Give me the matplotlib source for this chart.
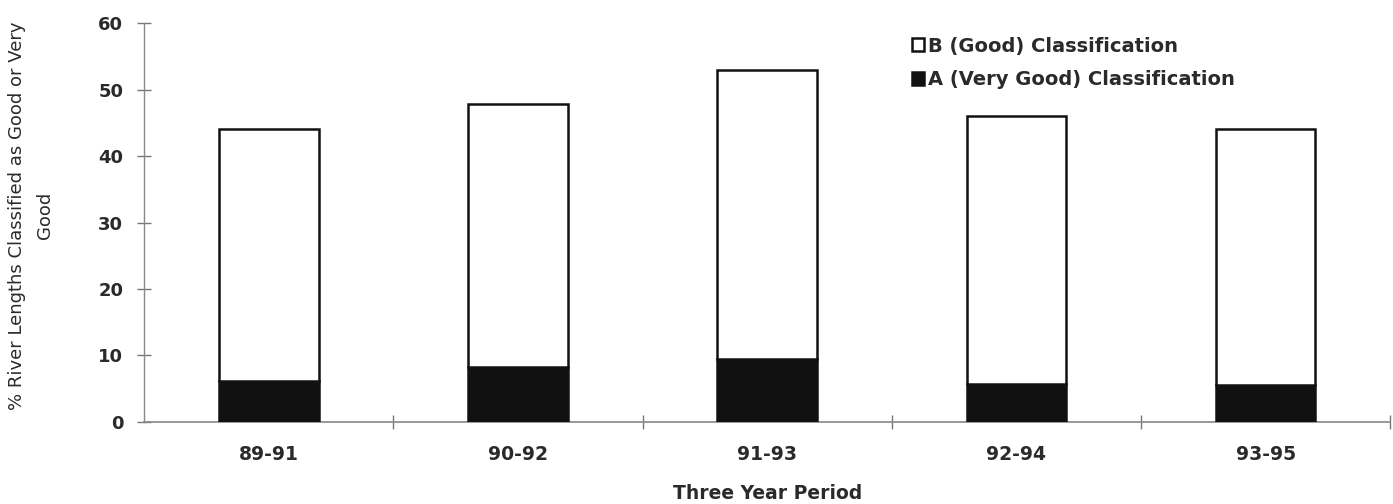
import matplotlib
matplotlib.use("Agg")
import matplotlib.pyplot as plt
from matplotlib.patches import Patch
import numpy as np

periods = ["89-91", "90-92", "91-93", "92-94", "93-95"]
total_good = [44.1, 47.9, 53.0, 46.1, 44.1]      # A + B (top of each bar)
very_good_a = [6.2, 8.3, 9.5, 5.7, 5.5]           # A (Very Good)
good_b = [t - a for t, a in zip(total_good, very_good_a)]
yticks = [0, 10, 20, 30, 40, 50, 60]

plt.rcParams['font.family'] = ['DejaVu Sans']
txt = '#2a2a2a'

fig = plt.figure(figsize=(13.93, 5.04), dpi=100)
ax = fig.add_axes([0.1034, 0.163, 0.8946, 0.791])

x = np.arange(len(periods))
w = 0.4
ax.bar(x, very_good_a, width=w, color='#111111', edgecolor='#111111', linewidth=1.8, zorder=3)
ax.bar(x, good_b, width=w, bottom=very_good_a, color='white', edgecolor='#111111', linewidth=1.8, zorder=3)

ax.set_xlim(-0.5, len(periods) - 0.5)
ax.set_ylim(0, 60)
ax.set_yticks(yticks)
ax.set_yticklabels([str(v) for v in yticks], fontsize=13, fontweight='bold', color=txt)
ax.set_xticks(x)
ax.set_xticklabels(periods, fontsize=13.5, fontweight='bold', color=txt)
ax.tick_params(axis='y', direction='inout', length=10, width=1, color='#777777', pad=10)
ax.tick_params(axis='x', length=0, pad=17)
# minor ticks at category boundaries
ax.set_xticks(np.arange(-0.5, len(periods) + 0.5, 1)[1:], minor=True)
ax.tick_params(axis='x', which='minor', direction='inout', length=10, width=1, color='#777777')

for s in ['top', 'right']:
    ax.spines[s].set_visible(False)
ax.spines['left'].set_color('#888888')
ax.spines['bottom'].set_color('#888888')
ax.spines['left'].set_linewidth(1)
ax.spines['bottom'].set_linewidth(1.2)

ax.set_ylabel("% River Lengths Classified as Good or Very\nGood", fontsize=13,
              color=txt, linespacing=1.7)
ax.yaxis.set_label_coords(-0.0725, 0.517)
ax.set_xlabel("Three Year Period", fontsize=13.5, fontweight='bold', color=txt, labelpad=14)

handles = [Patch(facecolor='white', edgecolor='#111111', linewidth=1.8, label='B (Good) Classification'),
           Patch(facecolor='#111111', edgecolor='#111111', linewidth=1.8, label='A (Very Good) Classification')]
leg = fig.legend(handles=handles, loc='upper left', bbox_to_anchor=(0.642, 0.962), frameon=False,
                 prop={'size': 14, 'weight': 'bold'}, handlelength=0.65, handleheight=0.65,
                 handletextpad=0.2, labelspacing=0.75)
for t in leg.get_texts():
    t.set_color(txt)

fig.savefig("out.png", dpi=100)
